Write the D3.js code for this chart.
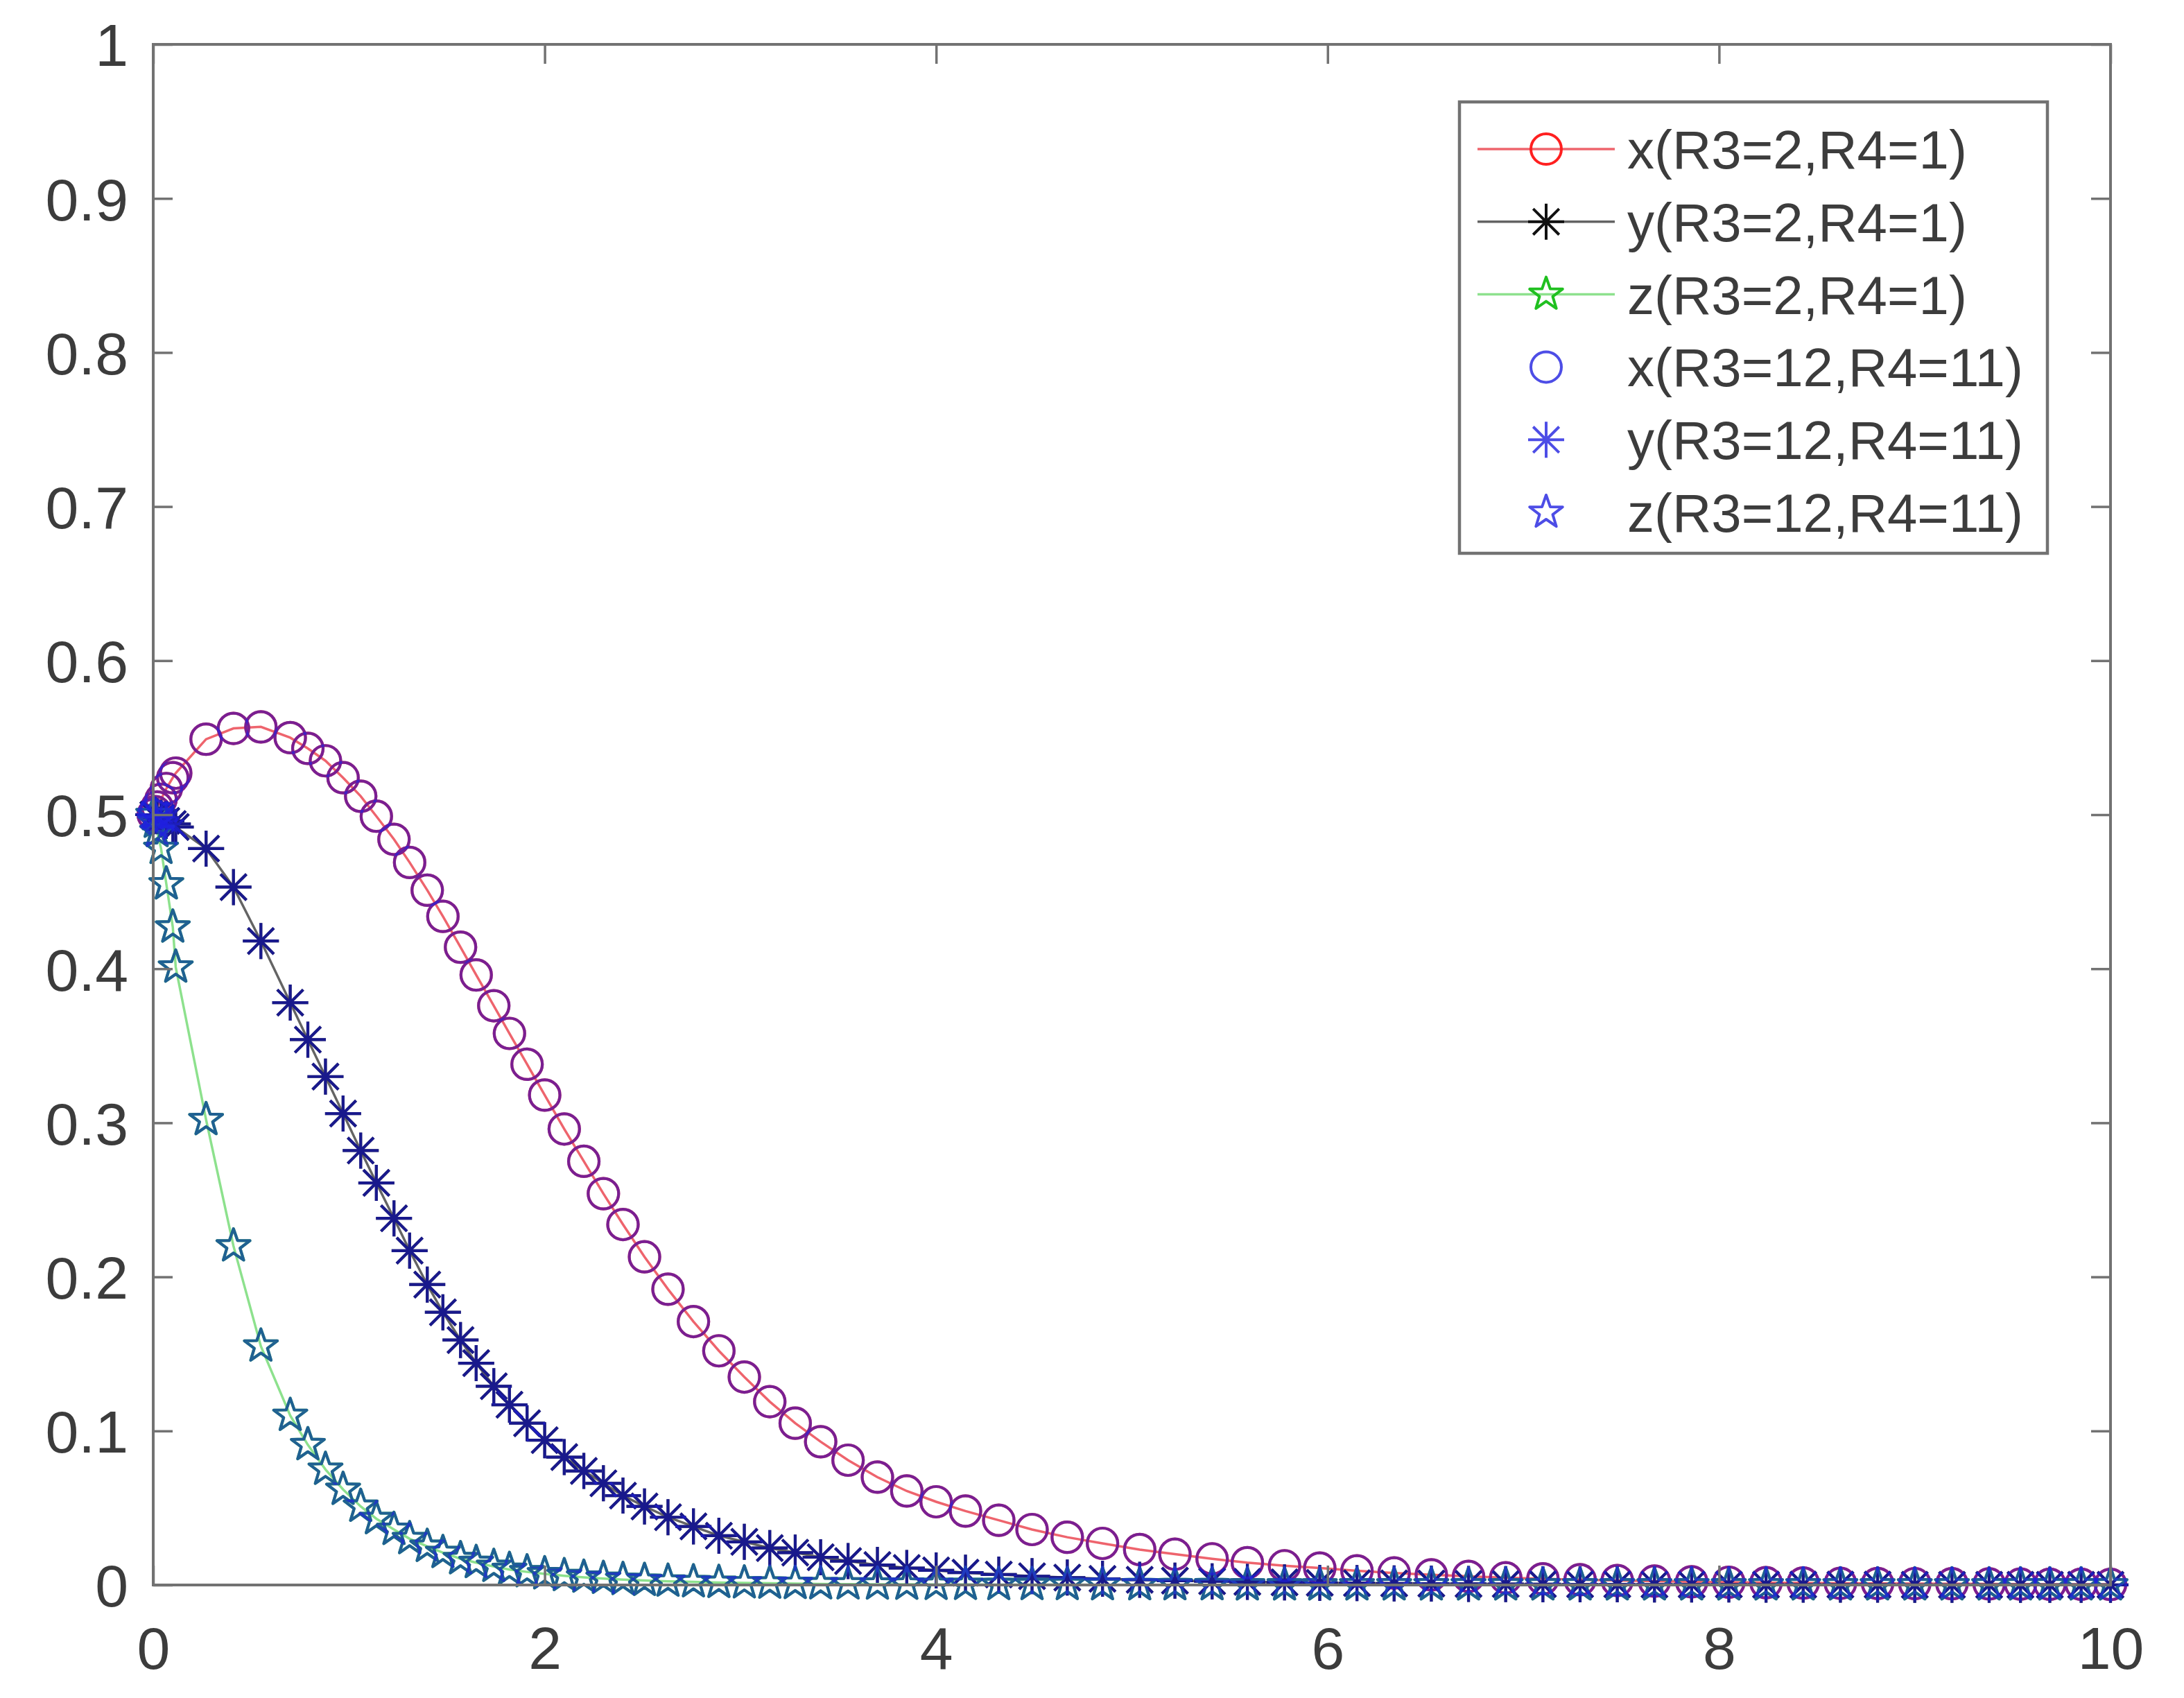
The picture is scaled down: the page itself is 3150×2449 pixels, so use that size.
<!DOCTYPE html>
<html>
<head>
<meta charset="utf-8">
<script src="https://cdn.jsdelivr.net/npm/d3@7"></script>
<style>
  html, body { margin: 0; padding: 0; background: #ffffff; }
  svg { display: block; }
</style>
</head>
<body>
<svg id="chart" width="3150" height="2449"></svg>
<script>
// ---------------- data ----------------
const tValues = [0, 0.01, 0.02, 0.04, 0.067, 0.1, 0.115, 0.27, 0.41, 0.55, 0.7, 0.79, 0.88, 0.97, 1.06, 1.14, 1.23, 1.31, 1.4, 1.48,
  1.57, 1.65, 1.74, 1.82, 1.91, 2.0, 2.1, 2.2, 2.3, 2.4, 2.51, 2.63, 2.76, 2.89, 3.02, 3.15, 3.28, 3.41, 3.55, 3.7,
  3.85, 4.0, 4.15, 4.32, 4.49, 4.67, 4.85, 5.04, 5.22, 5.41, 5.59, 5.78, 5.96, 6.15, 6.34, 6.53, 6.72, 6.91, 7.1, 7.29,
  7.48, 7.67, 7.86, 8.05, 8.24, 8.43, 8.62, 8.81, 9.0, 9.19, 9.38, 9.54, 9.69, 9.85, 10];

const xR3_2 = [0.500, 0.502, 0.505, 0.510, 0.517, 0.524, 0.527, 0.549, 0.556, 0.557, 0.550, 0.543, 0.535, 0.524, 0.512, 0.499, 0.484, 0.469, 0.451, 0.434,
  0.414, 0.396, 0.376, 0.358, 0.338, 0.318, 0.296, 0.275, 0.254, 0.234, 0.213, 0.192, 0.171, 0.152, 0.135, 0.119, 0.105, 0.093, 0.081, 0.070,
  0.061, 0.054, 0.048, 0.042, 0.036, 0.031, 0.027, 0.023, 0.020, 0.017, 0.0145, 0.0125, 0.011, 0.0092, 0.0078, 0.0066, 0.0056, 0.0047, 0.004, 0.0034,
  0.0029, 0.0025, 0.0021, 0.0018, 0.0015, 0.0013, 0.0011, 0.001, 0.0009, 0.0008, 0.0007, 0.0006, 0.0005, 0.0005, 0.0004];

const yR3_2 = [0.500, 0.500, 0.499, 0.498, 0.496, 0.494, 0.492, 0.478, 0.453, 0.418, 0.378, 0.354, 0.330, 0.306, 0.282, 0.261, 0.238, 0.217, 0.195, 0.177,
  0.159, 0.144, 0.129, 0.117, 0.105, 0.094, 0.083, 0.074, 0.066, 0.058, 0.051, 0.044, 0.038, 0.032, 0.028, 0.024, 0.021, 0.018, 0.0155, 0.013,
  0.011, 0.0095, 0.008, 0.0068, 0.0057, 0.0048, 0.004, 0.0034, 0.0028, 0.0024, 0.002, 0.0017, 0.0014, 0.0012, 0.001, 0.0009, 0.0007, 0.0006, 0.0005, 0.0004,
  0.0004, 0.0003, 0.0003, 0.0003, 0.0002, 0.0002, 0.0002, 0.0002, 0.0001, 0.0001, 0.0001, 0.0001, 0.0001, 0.0001, 0.0001];

const zR3_2 = [0.500, 0.495, 0.489, 0.478, 0.455, 0.427, 0.401, 0.302, 0.220, 0.155, 0.110, 0.091, 0.075, 0.062, 0.051, 0.043, 0.036, 0.030, 0.025, 0.021,
  0.017, 0.0145, 0.012, 0.010, 0.0085, 0.0072, 0.006, 0.005, 0.0042, 0.0035, 0.0029, 0.0024, 0.002, 0.0016, 0.0013, 0.0011, 0.0009, 0.0007, 0.0006, 0.0005,
  0.0004, 0.0003, 0.0003, 0.0002, 0.0002, 0.0002, 0.0001, 0.0001, 0.0001, 0.0001, 0, 0, 0, 0, 0, 0, 0, 0, 0, 0,
  0, 0, 0, 0, 0, 0, 0, 0, 0, 0, 0, 0, 0, 0, 0];

// second parameter set: in the picture its markers sit exactly on the first set's curves
const xR3_12 = xR3_2;
const yR3_12 = yR3_2;
const zR3_12 = zR3_2;

const xTicks = [0, 2, 4, 6, 8, 10];
const yTicks = [0, 0.1, 0.2, 0.3, 0.4, 0.5, 0.6, 0.7, 0.8, 0.9, 1];

const legendLabels = ["x(R3=2,R4=1)", "y(R3=2,R4=1)", "z(R3=2,R4=1)",
                      "x(R3=12,R4=11)", "y(R3=12,R4=11)", "z(R3=12,R4=11)"];

// ---------------- layout ----------------
const L = 221, R = 3044, T = 64, B = 2286;
const axisColor = "#727272";
const textColor = "#3c3c3c";
const fontFam = "'Liberation Sans', Arial, Helvetica, sans-serif";

const svg = d3.select("#chart");
const xs = d3.scaleLinear().domain([0, 10]).range([L, R]);
const ys = d3.scaleLinear().domain([0, 1]).range([B, T]);

svg.append("rect").attr("width", 3150).attr("height", 2449).attr("fill", "#fff");

// ---------------- marker shapes ----------------
function circlePath(r) {
  return `M${r},0A${r},${r} 0 1,1 ${-r},0A${r},${r} 0 1,1 ${r},0Z`;
}
function asteriskPath(r) {
  const a = r * 0.72;
  return `M${-r},0L${r},0M0,${-r}L0,${r}M${-a},${-a}L${a},${a}M${-a},${a}L${a},${-a}`;
}
function pentagramPath(r) {
  const ri = r * 0.40;
  const pts = [];
  for (let i = 0; i < 10; i++) {
    const ang = -Math.PI / 2 + i * Math.PI / 5;
    const rr = i % 2 === 0 ? r : ri;
    pts.push([rr * Math.cos(ang), rr * Math.sin(ang)]);
  }
  return "M" + pts.map(p => p[0].toFixed(2) + "," + p[1].toFixed(2)).join("L") + "Z";
}

const series = [
  { vals: xR3_2,  line: true,  color: "#ff2020", lineColor: "#e8303c", lineOpacity: 0.75, shape: circlePath(22),    mOpacity: 1 },
  { vals: yR3_2,  line: true,  color: "#111111", lineColor: "#222222", lineOpacity: 0.7,  shape: asteriskPath(26),  mOpacity: 1 },
  { vals: zR3_2,  line: true,  color: "#20c020", lineColor: "#30c830", lineOpacity: 0.55, shape: pentagramPath(25), mOpacity: 1 },
  { vals: xR3_12, line: false, color: "#2020e0", shape: circlePath(22),    mOpacity: 0.6 },
  { vals: yR3_12, line: false, color: "#2020e0", shape: asteriskPath(26),  mOpacity: 0.6 },
  { vals: zR3_12, line: false, color: "#2020e0", shape: pentagramPath(25), mOpacity: 0.6 }
];

const plot = svg.append("g");
const lineGen = d3.line().x((d, i) => xs(tValues[i])).y(d => ys(d));

series.forEach(s => {
  const g = plot.append("g");
  if (s.line) {
    g.append("path")
      .attr("d", lineGen(s.vals))
      .attr("fill", "none")
      .attr("stroke", s.lineColor)
      .attr("stroke-opacity", s.lineOpacity)
      .attr("stroke-width", 3.5);
  }
  g.selectAll("path.m")
    .data(s.vals)
    .join("path")
    .attr("class", "m")
    .attr("transform", (d, i) => `translate(${xs(tValues[i])},${ys(d)})`)
    .attr("d", s.shape)
    .attr("fill", "none")
    .attr("stroke", s.color)
    .attr("stroke-opacity", s.mOpacity)
    .attr("stroke-width", 4.2)
    .attr("stroke-linejoin", "round");
});

// ---------------- axes (MATLAB-like box with inward ticks) ----------------
const tickLen = 28;
const fmt = d3.format("~g");

const gB = svg.append("g").attr("transform", `translate(0,${B})`)
  .call(d3.axisBottom(xs).tickValues(xTicks).tickFormat(fmt).tickSizeInner(-tickLen).tickSizeOuter(0).tickPadding(60));
const gT = svg.append("g").attr("transform", `translate(0,${T})`)
  .call(d3.axisTop(xs).tickValues(xTicks).tickFormat("").tickSizeInner(-tickLen).tickSizeOuter(0));
const gL = svg.append("g").attr("transform", `translate(${L},0)`)
  .call(d3.axisLeft(ys).tickValues(yTicks).tickFormat(fmt).tickSizeInner(-tickLen).tickSizeOuter(0).tickPadding(36));
const gR = svg.append("g").attr("transform", `translate(${R},0)`)
  .call(d3.axisRight(ys).tickValues(yTicks).tickFormat("").tickSizeInner(-tickLen).tickSizeOuter(0));

[gB, gT, gL, gR].forEach(g => {
  g.select(".domain").remove();
  g.selectAll(".tick line").attr("stroke", axisColor).attr("stroke-width", 3.5);
  g.selectAll(".tick text").attr("fill", textColor).attr("font-family", fontFam).attr("font-size", 86);
});
gL.selectAll(".tick text").attr("dy", "0.36em");

svg.append("rect")
  .attr("x", L).attr("y", T).attr("width", R - L).attr("height", B - T)
  .attr("fill", "none").attr("stroke", axisColor).attr("stroke-width", 4);

// ---------------- legend ----------------
const lgX = 2105, lgY = 147, lgW = 848, lgH = 651;
const leg = svg.append("g");
leg.append("rect").attr("x", lgX).attr("y", lgY).attr("width", lgW).attr("height", lgH)
  .attr("fill", "#fff").attr("stroke", axisColor).attr("stroke-width", 4.5);

const rowY0 = 215, rowStep = 104.8;
legendLabels.forEach((lab, i) => {
  const s = series[i];
  const cy = rowY0 + i * rowStep;
  if (s.line) {
    leg.append("line").attr("x1", 2131).attr("x2", 2329).attr("y1", cy).attr("y2", cy)
      .attr("stroke", s.lineColor).attr("stroke-opacity", s.lineOpacity).attr("stroke-width", 3.5);
  }
  leg.append("path").attr("transform", `translate(2230,${cy})`).attr("d", s.shape)
    .attr("fill", "none").attr("stroke", s.color).attr("stroke-opacity", s.line ? 1 : 0.8)
    .attr("stroke-width", 4).attr("stroke-linejoin", "round");
  leg.append("text").attr("x", 2347).attr("y", cy).attr("dy", "0.36em")
    .attr("font-family", fontFam).attr("font-size", 78).attr("fill", textColor).text(lab);
});
</script>
</body>
</html>
